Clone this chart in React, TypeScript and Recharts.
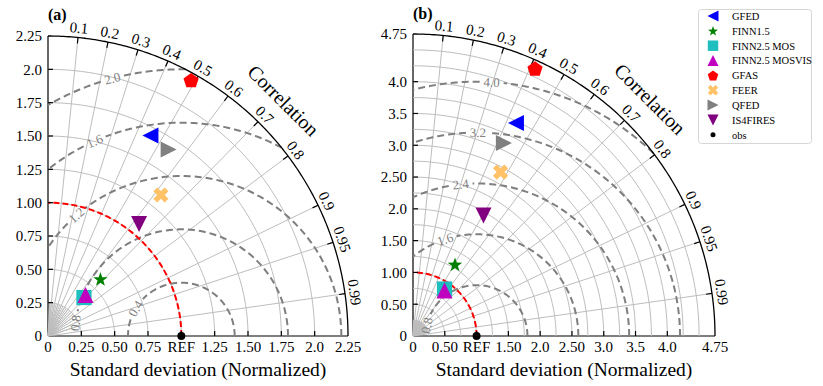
import React from "react";
import { ScatterChart, Scatter, XAxis, YAxis, ReferenceDot } from "recharts";

const FONT = '"Liberation Serif", "Times New Roman", serif';

const models = ["GFED", "FINN1.5", "FINN2.5 MOS", "FINN2.5 MOSVIS", "GFAS", "FEER", "QFED", "IS4FIRES"];
const colors = ["#0000ff", "#008000", "#1fbfbf", "#bf00bf", "#ff0000", "#ffc266", "#808080", "#800080"];
const kinds = ["triLeft", "star", "square", "triUp", "pentagon", "cross", "triRight", "triDown"];

// normalized std and correlation, panel (a)
const stdA = [1.689, 0.581, 0.395, 0.417, 2.199, 1.355, 1.666, 1.082];
const corrA = [0.455, 0.677, 0.683, 0.675, 0.488, 0.625, 0.543, 0.631];
// panel (b)
const stdB = [3.721, 1.305, 0.89, 0.87, 4.624, 2.923, 3.356, 2.196];
const corrB = [0.435, 0.506, 0.557, 0.569, 0.415, 0.471, 0.426, 0.505];

const corrTicks = [0.1, 0.2, 0.3, 0.4, 0.5, 0.6, 0.7, 0.8, 0.9, 0.95, 0.99];
const corrTickLabels = ["0.1", "0.2", "0.3", "0.4", "0.5", "0.6", "0.7", "0.8", "0.9", "0.95", "0.99"];

const ticksA = [0, 0.25, 0.5, 0.75, 1, 1.25, 1.5, 1.75, 2, 2.25];
const xLabelsA = ["0", "0.25", "0.50", "0.75", "REF", "1.25", "1.50", "1.75", "2.0", "2.25"];
const yLabelsA = ["0", "0.25", "0.50", "0.75", "1.00", "1.25", "1.50", "1.75", "2.0", "2.25"];
const rmsLevelsA = [0.4, 0.8, 1.2, 1.6, 2.0];
const rmsLabelsA = ["0.4", "0.8", "1.2", "1.6", "2.0"];
const rmsLabelDegA = [149, 173, 131, 114, 105];

const ticksB = [0, 0.5, 1, 1.5, 2, 2.5, 3, 3.5, 4, 4.75];
const xLabelsB = ["0", "0.50", "REF", "1.50", "2.0", "2.50", "3.0", "3.5", "4.0", "4.75"];
const yLabelsB = ["0", "0.50", "1.00", "1.50", "2.0", "2.50", "3.0", "3.5", "4.0", "4.75"];
const rmsLevelsB = [0.8, 1.6, 2.4, 3.2, 4.0];
const rmsLabelsB = ["0.8", "1.6", "2.4", "3.2", "4.0"];
const rmsLabelDegB = [168, 108, 96, 89.6, 86.6];

function Marker({ kind, cx, cy, color, s }: { kind: string; cx: number; cy: number; color: string; s: number }) {
  const poly = (pts: number[][]) => (
    <polygon points={pts.map((p) => `${cx + p[0]},${cy + p[1]}`).join(" ")} fill={color} />
  );
  switch (kind) {
    case "triUp":
      return poly([[0, -s], [-s, s], [s, s]]);
    case "triDown":
      return poly([[0, s], [-s, -s], [s, -s]]);
    case "triLeft":
      return poly([[-s, 0], [s, -s], [s, s]]);
    case "triRight":
      return poly([[s, 0], [-s, -s], [-s, s]]);
    case "square":
      return <rect x={cx - s * 0.95} y={cy - s * 0.95} width={s * 1.9} height={s * 1.9} fill={color} />;
    case "pentagon": {
      const pts = [];
      for (let k = 0; k < 5; k++) {
        const a = -Math.PI / 2 + (k * 2 * Math.PI) / 5;
        pts.push([s * Math.cos(a), s * Math.sin(a) + s * 0.1]);
      }
      return poly(pts);
    }
    case "star": {
      const pts = [];
      for (let k = 0; k < 10; k++) {
        const a = -Math.PI / 2 + (k * Math.PI) / 5;
        const r = k % 2 === 0 ? s * 0.95 : s * 0.38;
        pts.push([r * Math.cos(a), r * Math.sin(a) + s * 0.08]);
      }
      return poly(pts);
    }
    case "cross": {
      const L = s, w = s * 0.34;
      const base = [[w, L], [w, w], [L, w], [L, -w], [w, -w], [w, -L], [-w, -L], [-w, -w], [-L, -w], [-L, w], [-w, w], [-w, L]];
      const c = Math.SQRT1_2;
      return poly(base.map(([x, y]) => [(x - y) * c, (x + y) * c]));
    }
    default:
      return <circle cx={cx} cy={cy} r={s} fill={color} />;
  }
}

type PanelProps = {
  rMax: number;
  size: number;
  top: number;
  right: number;
  width: number;
  ticks: number[];
  xLabels: string[];
  yLabels: string[];
  stdStep: number;
  fanStep: number;
  rmsLevels: number[];
  rmsLabels: string[];
  rmsLabelDeg: number[];
  std: number[];
  corr: number[];
};

const GRID = "#bdbdbd";

function TaylorPanel(p: PanelProps) {
  const { rMax } = p;
  const ppu = p.size / rMax;
  const clamp = (v: number) => Math.max(0, Math.min(rMax, v));
  const arc = (cx: number, r: number, a0: number, a1: number, n = 90) => {
    const pts = [];
    for (let i = 0; i <= n; i++) {
      const a = a0 + ((a1 - a0) * i) / n;
      pts.push({ x: clamp(cx + r * Math.cos(a)), y: clamp(r * Math.sin(a)) });
    }
    return pts;
  };
  const ray = (c: number, r0: number, r1: number) => {
    const s = Math.sqrt(1 - c * c);
    return [
      { x: clamp(r0 * c), y: clamp(r0 * s) },
      { x: clamp(r1 * c), y: clamp(r1 * s) },
    ];
  };
  const noDot = () => <g />;
  const lineSeries = (key: string, pts: { x: number; y: number }[], style: any) => (
    <Scatter key={key} data={pts} line={style} shape={noDot} isAnimationActive={false} legendType="none" />
  );

  const stdRadii: number[] = [];
  for (let k = 1; k * p.stdStep < rMax - 1e-9; k++) stdRadii.push(k * p.stdStep);
  const fan: number[] = [];
  for (let k = 1; k * p.fanStep < 1 - 1e-9; k++) fan.push(k * p.fanStep);

  const gridStyle = { stroke: GRID, strokeWidth: 1 };

  const rmsParts = p.rmsLevels.map((r, i) => {
    const c1 = (rMax * rMax - 1 - r * r) / (2 * r);
    const a0 = c1 >= 1 ? 0 : Math.acos(Math.max(-1, c1));
    const a1 = r > 1 ? Math.acos(-1 / r) : Math.PI;
    const aL = (p.rmsLabelDeg[i] * Math.PI) / 180;
    const gap = 12 / (r * ppu);
    return {
      segs: [arc(1, r, a0, aL - gap), arc(1, r, aL + gap, a1)],
      lx: 1 + r * Math.cos(aL),
      ly: r * Math.sin(aL),
      rot: 90 - p.rmsLabelDeg[i],
    };
  });

  const fmtX = (v: number) => p.xLabels[p.ticks.indexOf(v)] ?? "";
  const fmtY = (v: number) => p.yLabels[p.ticks.indexOf(v)] ?? "";

  return (
    <ScatterChart width={p.width} height={386} margin={{ top: p.top, right: p.right, bottom: 0, left: 0 }}>
      <XAxis
        type="number"
        dataKey="x"
        domain={[0, rMax]}
        ticks={p.ticks}
        interval={0}
        tickFormatter={fmtX}
        tickLine={false}
        tickSize={0}
        tickMargin={5}
        height={50}
        axisLine={{ stroke: "#000", strokeWidth: 1.2 }}
        tick={{ fill: "#000", fontSize: 15, fontFamily: FONT }}
        label={{
          value: "Standard deviation (Normalized)",
          position: "insideBottom",
          offset: 10,
          fontSize: 19.5,
          fill: "#000",
          fontFamily: FONT,
        }}
      />
      <YAxis
        type="number"
        dataKey="y"
        domain={[0, rMax]}
        ticks={p.ticks}
        interval={0}
        tickFormatter={fmtY}
        tickLine={false}
        tickSize={0}
        tickMargin={6}
        width={48}
        axisLine={{ stroke: "#000", strokeWidth: 1.2 }}
        tick={{ fill: "#000", fontSize: 15, fontFamily: FONT }}
      />

      {fan.map((c, i) => lineSeries(`fan${i}`, ray(c, 0, 0.25), gridStyle))}
      {stdRadii.map((r, i) => lineSeries(`std${i}`, arc(0, r, 0, Math.PI / 2), gridStyle))}
      {corrTicks.map((c, i) => lineSeries(`ray${i}`, ray(c, 0, rMax), gridStyle))}

      {rmsParts.map((part, i) =>
        part.segs.map((seg, j) =>
          lineSeries(`rms${i}-${j}`, seg, { stroke: "#7f7f7f", strokeWidth: 2, strokeDasharray: "7 4" })
        )
      )}
      {lineSeries("ref", arc(0, 1, 0, Math.PI / 2), { stroke: "#ff0000", strokeWidth: 2, strokeDasharray: "6 3" })}
      {lineSeries("outer", arc(0, rMax, 0, Math.PI / 2, 180), { stroke: "#000", strokeWidth: 1.3 })}

      <Scatter
        data={corrTicks.map((c) => ({ x: clamp(rMax * c), y: clamp(rMax * Math.sqrt(1 - c * c)), c }))}
        shape={(s: any) => {
          const c = s.payload.c;
          const sn = Math.sqrt(1 - c * c);
          return <line x1={s.cx} y1={s.cy} x2={s.cx - 6 * c} y2={s.cy + 6 * sn} stroke="#000" strokeWidth={1.2} />;
        }}
        isAnimationActive={false}
        legendType="none"
      />
      <Scatter
        data={p.ticks.slice(1, -1).map((t) => ({ x: t, y: 0 }))}
        shape={(s: any) => <line x1={s.cx} y1={s.cy} x2={s.cx} y2={s.cy - 5} stroke="#000" strokeWidth={1.2} />}
        isAnimationActive={false}
        legendType="none"
      />
      <Scatter
        data={p.ticks.slice(1, -1).map((t) => ({ x: 0, y: t }))}
        shape={(s: any) => <line x1={s.cx} y1={s.cy} x2={s.cx + 5} y2={s.cy} stroke="#000" strokeWidth={1.2} />}
        isAnimationActive={false}
        legendType="none"
      />

      {rmsParts.map((part, i) => (
        <ReferenceDot
          key={`rl${i}`}
          x={part.lx}
          y={part.ly}
          r={0}
          ifOverflow="visible"
          shape={(s: any) => (
            <text
              x={s.cx}
              y={s.cy}
              transform={`rotate(${part.rot} ${s.cx} ${s.cy})`}
              textAnchor="middle"
              dominantBaseline="central"
              fontSize={13}
              fill="#7f7f7f"
              fontFamily={FONT}
            >
              {p.rmsLabels[i]}
            </text>
          )}
        />
      ))}

      {corrTicks.map((c, i) => {
        const a = Math.acos(c);
        const r = rMax * 1.032;
        return (
          <ReferenceDot
            key={`cl${i}`}
            x={r * c}
            y={r * Math.sin(a)}
            r={0}
            ifOverflow="visible"
            shape={(s: any) => (
              <text
                x={s.cx}
                y={s.cy}
                transform={`rotate(${90 - (a * 180) / Math.PI} ${s.cx} ${s.cy})`}
                textAnchor="middle"
                dominantBaseline="central"
                fontSize={15}
                fill="#000"
                fontFamily={FONT}
              >
                {corrTickLabels[i]}
              </text>
            )}
          />
        );
      })}
      <ReferenceDot
        x={rMax * 1.11 * Math.SQRT1_2}
        y={rMax * 1.11 * Math.SQRT1_2}
        r={0}
        ifOverflow="visible"
        shape={(s: any) => (
          <text
            x={s.cx}
            y={s.cy}
            transform={`rotate(45 ${s.cx} ${s.cy})`}
            textAnchor="middle"
            dominantBaseline="central"
            fontSize={20}
            fill="#000"
            fontFamily={FONT}
          >
            Correlation
          </text>
        )}
      />

      {models.map((m, i) => {
        const c = p.corr[i];
        return (
          <Scatter
            key={m}
            name={m}
            data={[{ x: p.std[i] * c, y: p.std[i] * Math.sqrt(1 - c * c) }]}
            shape={(s: any) => <Marker kind={kinds[i]} cx={s.cx} cy={s.cy} color={colors[i]} s={8} />}
            isAnimationActive={false}
            legendType="none"
          />
        );
      })}
      <Scatter
        name="obs"
        data={[{ x: 1, y: 0 }]}
        shape={(s: any) => <circle cx={s.cx} cy={s.cy} r={4} fill="#000" />}
        isAnimationActive={false}
        legendType="none"
      />
    </ScatterChart>
  );
}

function LegendBox() {
  const y0 = 16;
  const dy = 14.85;
  const items = [...models.map((m, i) => ({ name: m, kind: kinds[i], color: colors[i] })), { name: "obs", kind: "dot", color: "#000" }];
  return (
    <svg width={823} height={386} style={{ position: "absolute", left: 0, top: 0, pointerEvents: "none" }}>
      <text x={48} y={20} fontSize={16} fontWeight="bold" fontFamily={FONT}>(a)</text>
      <text x={413} y={19} fontSize={16} fontWeight="bold" fontFamily={FONT}>(b)</text>
      <rect x={698.5} y={9.5} width={113} height={134} rx={3} fill="#fff" fillOpacity={0.85} stroke="#d6d6d6" />
      {items.map((it, i) => (
        <g key={it.name}>
          <Marker kind={it.kind} cx={713} cy={y0 + i * dy} color={it.color} s={it.kind === "dot" ? 2.5 : 5.5} />
          <text x={732} y={y0 + i * dy + 3.8} fontSize={10.5} fontFamily={FONT} fill="#000">
            {it.name}
          </text>
        </g>
      ))}
    </svg>
  );
}

export default function App() {
  return (
    <div style={{ position: "absolute", left: 0, top: 0, width: 823, height: 386, background: "#fff", fontFamily: FONT }}>
      <div style={{ position: "absolute", left: 0, top: 0 }}>
        <TaylorPanel
          rMax={2.25}
          size={300}
          top={36}
          right={32}
          width={380}
          ticks={ticksA}
          xLabels={xLabelsA}
          yLabels={yLabelsA}
          stdStep={0.25}
          fanStep={0.05}
          rmsLevels={rmsLevelsA}
          rmsLabels={rmsLabelsA}
          rmsLabelDeg={rmsLabelDegA}
          std={stdA}
          corr={corrA}
        />
      </div>
      <div style={{ position: "absolute", left: 365, top: 0 }}>
        <TaylorPanel
          rMax={4.75}
          size={302}
          top={34}
          right={50}
          width={400}
          ticks={ticksB}
          xLabels={xLabelsB}
          yLabels={yLabelsB}
          stdStep={0.25}
          fanStep={0.025}
          rmsLevels={rmsLevelsB}
          rmsLabels={rmsLabelsB}
          rmsLabelDeg={rmsLabelDegB}
          std={stdB}
          corr={corrB}
        />
      </div>
      <LegendBox />
    </div>
  );
}
